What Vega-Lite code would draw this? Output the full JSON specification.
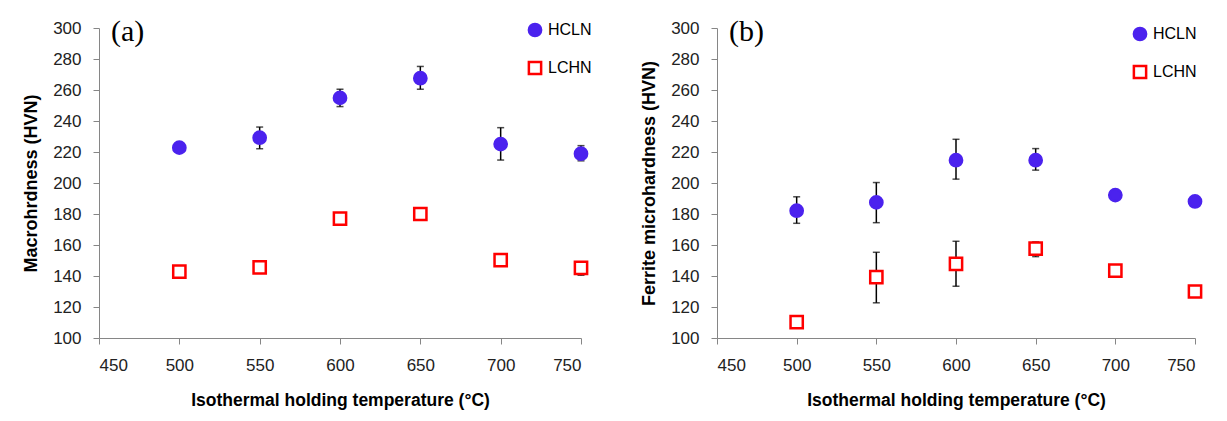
{
  "$schema": "https://vega.github.io/schema/vega-lite/v6.json",
  "background": "white",
  "padding": {"left": 22, "top": 17, "right": 5, "bottom": 2},
  "datasets": {
    "hv": [
      {"panel": "a", "series": "HCLN", "temp": 500, "hv": 222.8, "lo": 221, "hi": 224.5},
      {"panel": "a", "series": "HCLN", "temp": 550, "hv": 229.2, "lo": 222.1, "hi": 236.1},
      {"panel": "a", "series": "HCLN", "temp": 600, "hv": 254.9, "lo": 249.3, "hi": 260.5},
      {"panel": "a", "series": "HCLN", "temp": 650, "hv": 267.6, "lo": 260.5, "hi": 275.2},
      {"panel": "a", "series": "HCLN", "temp": 700, "hv": 225.1, "lo": 214.8, "hi": 235.7},
      {"panel": "a", "series": "HCLN", "temp": 750, "hv": 218.9, "lo": 214.3, "hi": 224.1},
      {"panel": "a", "series": "LCHN", "temp": 500, "hv": 142.9, "lo": 141, "hi": 145},
      {"panel": "a", "series": "LCHN", "temp": 550, "hv": 145.5, "lo": 143.5, "hi": 147.5},
      {"panel": "a", "series": "LCHN", "temp": 600, "hv": 177.0, "lo": 175, "hi": 179},
      {"panel": "a", "series": "LCHN", "temp": 650, "hv": 180.0, "lo": 178, "hi": 182},
      {"panel": "a", "series": "LCHN", "temp": 700, "hv": 150.3, "lo": 146.5, "hi": 154},
      {"panel": "a", "series": "LCHN", "temp": 750, "hv": 145.3, "lo": 140.5, "hi": 149},
      {"panel": "b", "series": "HCLN", "temp": 500, "hv": 182.1, "lo": 174.0, "hi": 191.1},
      {"panel": "b", "series": "HCLN", "temp": 550, "hv": 187.5, "lo": 174.4, "hi": 200.3},
      {"panel": "b", "series": "HCLN", "temp": 600, "hv": 214.7, "lo": 202.5, "hi": 228.2},
      {"panel": "b", "series": "HCLN", "temp": 650, "hv": 214.7, "lo": 208.3, "hi": 222.2},
      {"panel": "b", "series": "HCLN", "temp": 700, "hv": 192.2, "lo": 190, "hi": 194},
      {"panel": "b", "series": "HCLN", "temp": 750, "hv": 188.1, "lo": 186, "hi": 190},
      {"panel": "b", "series": "LCHN", "temp": 500, "hv": 110.3, "lo": 108, "hi": 112},
      {"panel": "b", "series": "LCHN", "temp": 550, "hv": 139.2, "lo": 122.7, "hi": 155.3},
      {"panel": "b", "series": "LCHN", "temp": 600, "hv": 147.8, "lo": 133.4, "hi": 162.4},
      {"panel": "b", "series": "LCHN", "temp": 650, "hv": 157.7, "lo": 152.5, "hi": 162},
      {"panel": "b", "series": "LCHN", "temp": 700, "hv": 143.5, "lo": 141, "hi": 146},
      {"panel": "b", "series": "LCHN", "temp": 750, "hv": 130.0, "lo": 128, "hi": 132}
    ]
  },
  "config": {
    "view": {"stroke": null},
    "font": "Liberation Sans",
    "axis": {
      "grid": false,
      "domainColor": "#868686",
      "tickColor": "#868686",
      "tickSize": 6,
      "labelOverlap": false,
      "labelFont": "Liberation Sans",
      "labelFontSize": 17,
      "labelColor": "#222222",
      "titleFont": "Liberation Sans",
      "titleFontWeight": "bold",
      "titleColor": "#000000"
    },
    "axisY": {"labelPadding": 12, "titlePadding": 12, "titleFontSize": 18},
    "axisX": {"labelPadding": 13, "titlePadding": 18, "titleFontSize": 17.5},
    "legend": {
      "labelFont": "Liberation Sans",
      "labelFontSize": 16,
      "labelColor": "#000000",
      "rowPadding": 14,
      "symbolSize": 150,
      "symbolStrokeWidth": 2.5,
      "labelOffset": 5
    },
    "title": {
      "font": "Liberation Serif",
      "fontSize": 30,
      "fontWeight": "normal",
      "color": "#000000",
      "anchor": "start",
      "frame": "group",
      "baseline": "alphabetic",
      "offset": -28,
      "dx": 12
    }
  },
  "hconcat": [
    {
      "title": {"text": "(a)"},
      "width": 482,
      "height": 310,
      "data": {"name": "hv"},
      "transform": [{"filter": "datum.panel === 'a'"}],
      "encoding": {
        "x": {"field": "temp", "type": "quantitative", "scale": {"domain": [450, 750], "nice": false, "zero": false}, "axis": {"values": [450, 500, 550, 600, 650, 700, 750]}, "title": "Isothermal holding temperature (°C)"}
      },
      "layer": [
        {
          "mark": {"type": "errorbar", "color": "#000000", "thickness": 1.5, "ticks": {"size": 7, "thickness": 1.5, "color": "#000000"}},
          "encoding": {
            "y": {"field": "lo", "type": "quantitative", "scale": {"domain": [100, 300], "nice": false, "zero": false}, "axis": {"values": [100, 120, 140, 160, 180, 200, 220, 240, 260, 280, 300]}, "title": "Macrohrdness (HVN)"},
            "y2": {"field": "hi"}
          }
        },
        {
          "mark": {"type": "point", "strokeWidth": 2.5, "opacity": 1},
          "encoding": {
            "y": {"field": "hv", "type": "quantitative", "scale": {"domain": [100, 300], "nice": false, "zero": false}, "axis": {"values": [100, 120, 140, 160, 180, 200, 220, 240, 260, 280, 300]}, "title": "Macrohrdness (HVN)"},
            "shape": {"field": "series", "type": "nominal", "scale": {"domain": ["HCLN", "LCHN"], "range": ["circle", "square"]}, "legend": {"title": null, "orient": "none", "legendX": 428, "legendY": -6}},
            "stroke": {"field": "series", "type": "nominal", "scale": {"domain": ["HCLN", "LCHN"], "range": ["#4b22ee", "#ff0000"]}, "legend": {"title": null, "orient": "none", "legendX": 428, "legendY": -6}},
            "fill": {"field": "series", "type": "nominal", "scale": {"domain": ["HCLN", "LCHN"], "range": ["#4b22ee", "#ffffff"]}, "legend": {"title": null, "orient": "none", "legendX": 428, "legendY": -6}},
            "size": {"value": 150}
          }
        }
      ]
    },
    {
      "title": {"text": "(b)"},
      "width": 478,
      "height": 310,
      "data": {"name": "hv"},
      "transform": [{"filter": "datum.panel === 'b'"}],
      "encoding": {
        "x": {"field": "temp", "type": "quantitative", "scale": {"domain": [450, 750], "nice": false, "zero": false}, "axis": {"values": [450, 500, 550, 600, 650, 700, 750]}, "title": "Isothermal holding temperature (°C)"}
      },
      "layer": [
        {
          "mark": {"type": "errorbar", "color": "#000000", "thickness": 1.5, "ticks": {"size": 7, "thickness": 1.5, "color": "#000000"}},
          "encoding": {
            "y": {"field": "lo", "type": "quantitative", "scale": {"domain": [100, 300], "nice": false, "zero": false}, "axis": {"values": [100, 120, 140, 160, 180, 200, 220, 240, 260, 280, 300]}, "title": "Ferrite  microhardness (HVN)"},
            "y2": {"field": "hi"}
          }
        },
        {
          "mark": {"type": "point", "strokeWidth": 2.5, "opacity": 1},
          "encoding": {
            "y": {"field": "hv", "type": "quantitative", "scale": {"domain": [100, 300], "nice": false, "zero": false}, "axis": {"values": [100, 120, 140, 160, 180, 200, 220, 240, 260, 280, 300]}, "title": "Ferrite  microhardness (HVN)"},
            "shape": {"field": "series", "type": "nominal", "scale": {"domain": ["HCLN", "LCHN"], "range": ["circle", "square"]}, "legend": {"title": null, "orient": "none", "legendX": 415, "legendY": -2}},
            "stroke": {"field": "series", "type": "nominal", "scale": {"domain": ["HCLN", "LCHN"], "range": ["#4b22ee", "#ff0000"]}, "legend": {"title": null, "orient": "none", "legendX": 415, "legendY": -2}},
            "fill": {"field": "series", "type": "nominal", "scale": {"domain": ["HCLN", "LCHN"], "range": ["#4b22ee", "#ffffff"]}, "legend": {"title": null, "orient": "none", "legendX": 415, "legendY": -2}},
            "size": {"value": 150}
          }
        }
      ]
    }
  ],
  "resolve": {
    "scale": {"x": "independent", "y": "independent", "shape": "independent", "stroke": "independent", "fill": "independent"},
    "legend": {"shape": "independent", "stroke": "independent", "fill": "independent"}
  },
  "spacing": 47
}
